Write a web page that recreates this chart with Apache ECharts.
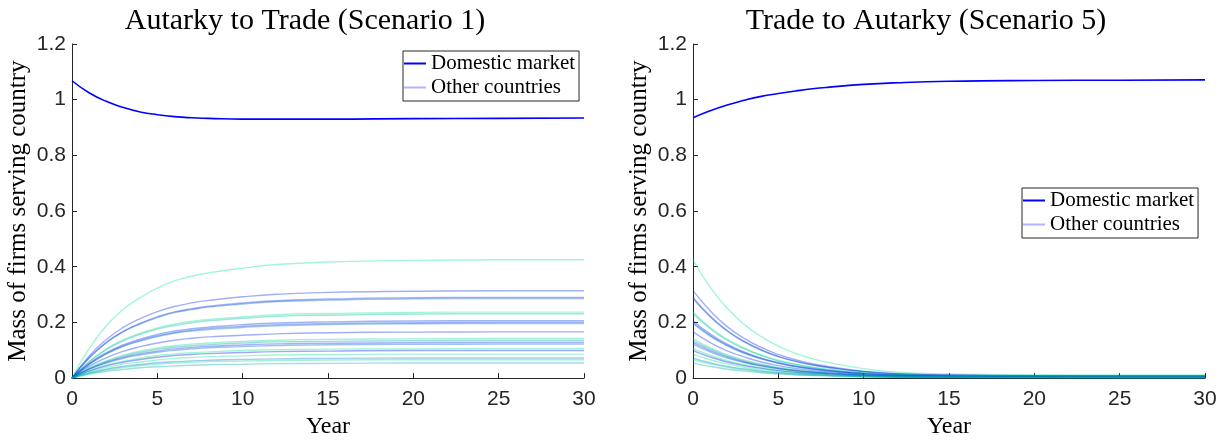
<!DOCTYPE html>
<html>
<head>
<meta charset="utf-8">
<script src="https://cdn.jsdelivr.net/npm/echarts@6/dist/echarts.min.js"></script>
<style>
html,body{margin:0;padding:0;background:#fff;}
#chart{width:1226px;height:444px;}
</style>
</head>
<body>
<div id="chart"></div>
<script>
// ---- data ----
const years = [0, 1, 2, 3, 4, 5, 6, 7, 8, 10, 12, 15, 20, 25, 30];
const xTicks = [0, 5, 10, 15, 20, 25, 30];
const yTicks = [0, 0.2, 0.4, 0.6, 0.8, 1, 1.2];

const domesticLeft  = [1.068, 1.025, 0.994, 0.972, 0.956, 0.946, 0.939, 0.935, 0.933, 0.930, 0.930, 0.930, 0.932, 0.933, 0.934];
const domesticRight = [0.935, 0.960, 0.981, 0.998, 1.012, 1.022, 1.031, 1.039, 1.045, 1.055, 1.061, 1.066, 1.069, 1.070, 1.071];

const otherLeft = [
  [0, .106, .187, .247, .289, .323, .349, .366, .378, .395, .408, .417, .423, .425, .425],
  [0, .079, .138, .182, .214, .239, .257, .270, .279, .292, .301, .308, .312, .314, .314],
  [0, .073, .128, .168, .197, .220, .238, .249, .258, .270, .278, .284, .289, .290, .290],
  [0, .072, .126, .166, .194, .217, .235, .246, .255, .266, .275, .280, .285, .286, .286],
  [0, .059, .104, .137, .161, .180, .194, .204, .211, .220, .228, .232, .236, .237, .237],
  [0, .058, .102, .134, .157, .176, .189, .199, .206, .215, .222, .226, .230, .231, .231],
  [0, .052, .091, .119, .140, .157, .169, .177, .183, .192, .198, .202, .205, .206, .206],
  [0, .050, .088, .116, .136, .152, .164, .172, .178, .186, .192, .196, .199, .200, .200],
  [0, .049, .086, .114, .133, .149, .161, .169, .174, .182, .188, .192, .195, .196, .196],
  [0, .042, .073, .096, .113, .126, .136, .143, .148, .154, .159, .163, .165, .166, .166],
  [0, .036, .062, .082, .097, .108, .116, .122, .126, .132, .136, .139, .141, .142, .142],
  [0, .034, .059, .078, .092, .103, .111, .116, .120, .126, .130, .132, .134, .135, .135],
  [0, .032, .056, .074, .087, .097, .105, .110, .114, .119, .123, .125, .127, .128, .128],
  [0, .031, .054, .071, .083, .093, .100, .105, .109, .113, .117, .120, .121, .122, .122],
  [0, .027, .047, .061, .072, .081, .087, .091, .094, .099, .102, .104, .105, .106, .106],
  [0, .025, .044, .057, .067, .075, .081, .085, .088, .092, .095, .097, .099, .099, .099],
  [0, .022, .038, .050, .058, .065, .071, .074, .077, .080, .083, .084, .086, .086, .086],
  [0, .018, .032, .042, .049, .055, .059, .062, .064, .067, .069, .071, .072, .072, .072],
  [0, .017, .029, .038, .045, .050, .054, .057, .059, .061, .063, .065, .066, .066, .066],
  [0, .014, .024, .031, .037, .041, .044, .046, .048, .050, .052, .053, .054, .054, .054]
];

const otherRight = [
  [.425, .327, .251, .193, .149, .115, .089, .070, .055, .034, .021, .015, .012, .011, .011],
  [.314, .242, .185, .143, .110, .085, .066, .052, .041, .025, .016, .011, .009, .008, .008],
  [.290, .223, .171, .132, .102, .078, .061, .048, .038, .023, .015, .010, .008, .008, .008],
  [.286, .220, .169, .130, .100, .077, .060, .047, .037, .023, .014, .010, .008, .008, .008],
  [.237, .182, .140, .108, .083, .064, .050, .039, .031, .019, .012, .008, .007, .006, .006],
  [.231, .178, .136, .105, .081, .062, .049, .038, .030, .018, .012, .008, .006, .006, .006],
  [.206, .159, .122, .094, .072, .056, .043, .034, .027, .016, .010, .007, .006, .006, .006],
  [.200, .154, .118, .091, .070, .054, .042, .033, .026, .016, .010, .007, .006, .005, .005],
  [.196, .151, .116, .089, .069, .053, .041, .032, .025, .016, .010, .007, .005, .005, .005],
  [.166, .128, .098, .076, .058, .045, .035, .027, .022, .013, .008, .006, .005, .004, .004],
  [.142, .109, .084, .065, .050, .038, .030, .023, .018, .011, .007, .005, .004, .004, .004],
  [.135, .104, .080, .061, .047, .036, .028, .022, .018, .011, .007, .005, .004, .004, .004],
  [.128, .099, .076, .058, .045, .035, .027, .021, .017, .010, .006, .004, .004, .003, .003],
  [.122, .094, .072, .056, .043, .033, .026, .020, .016, .010, .006, .004, .003, .003, .003],
  [.106, .082, .063, .048, .037, .029, .022, .017, .014, .008, .005, .004, .003, .003, .003],
  [.099, .076, .058, .045, .035, .027, .021, .016, .013, .008, .005, .003, .003, .003, .003],
  [.086, .066, .051, .039, .030, .023, .018, .014, .011, .007, .004, .003, .002, .002, .002],
  [.072, .055, .042, .033, .025, .019, .015, .012, .009, .006, .004, .003, .002, .002, .002],
  [.066, .051, .039, .030, .023, .018, .014, .011, .009, .005, .003, .002, .002, .002, .002],
  [.054, .042, .032, .025, .019, .015, .011, .009, .007, .004, .003, .002, .002, .001, .001]
];

const titles = ['Autarky to Trade (Scenario 1)', 'Trade to Autarky (Scenario 5)'];
const legendNames = ['Domestic market', 'Other countries'];
const xName = 'Year';
const yName = 'Mass of firms serving country';

// ---- styles ----
const otherColors = [
  'rgba(0,232,140,0.37)', 'rgba(0,38,236,0.37)', 'rgba(0,51,230,0.37)', 'rgba(0,77,217,0.37)',
  'rgba(0,230,140,0.37)', 'rgba(0,179,166,0.37)', 'rgba(0,51,230,0.37)', 'rgba(0,64,223,0.37)',
  'rgba(0,102,204,0.37)', 'rgba(0,38,236,0.37)', 'rgba(0,217,147,0.37)', 'rgba(0,153,179,0.37)',
  'rgba(0,51,230,0.37)', 'rgba(0,89,210,0.37)', 'rgba(0,230,140,0.37)', 'rgba(0,13,249,0.37)',
  'rgba(0,230,140,0.37)', 'rgba(0,115,198,0.37)', 'rgba(0,217,147,0.37)', 'rgba(0,166,172,0.37)'
];
const domesticColor = '#0000ff';
const legendOtherColor = '#b3b3ff';
const axisColor = '#262626';
const serif = 'Liberation Serif';
const sans = 'Liberation Sans';

const grids = [
  {left: 72, top: 44, width: 512, height: 339.5},
  {left: 693, top: 44, width: 512, height: 339.5}
];
const titleCenters = [300, 921];
const legendPos = [{left: 403, top: 51}, {left: 1022, top: 188}];

function xAxisFor(i) {
  return {
    gridIndex: i, type: 'value', min: xTicks[0], max: xTicks[xTicks.length - 1], interval: 5,
    name: xName, nameLocation: 'middle', nameGap: 35,
    nameTextStyle: {fontFamily: serif, fontSize: 24, color: '#000'},
    axisLine: {show: true, onZero: false, lineStyle: {color: axisColor, width: 1}},
    axisTick: {show: true, inside: true, length: 5, lineStyle: {color: axisColor}},
    axisLabel: {fontFamily: sans, fontSize: 21, color: axisColor, margin: 11},
    splitLine: {show: false}
  };
}
function yAxisFor(i) {
  return {
    gridIndex: i, type: 'value', min: yTicks[0], max: yTicks[yTicks.length - 1], interval: 0.2,
    name: yName, nameLocation: 'middle', nameGap: 41,
    nameTextStyle: {fontFamily: serif, fontSize: 25, color: '#000'},
    axisLine: {show: true, onZero: false, lineStyle: {color: axisColor, width: 1}},
    axisTick: {show: true, inside: true, length: 5, lineStyle: {color: axisColor}},
    axisLabel: {fontFamily: sans, fontSize: 21, color: axisColor, margin: 6,
      formatter: v => String(Math.round(v * 10) / 10)},
    splitLine: {show: false}
  };
}

const series = [];
[otherLeft, otherRight].forEach((set, gi) => {
  set.forEach((row, k) => {
    series.push({
      name: legendNames[1], type: 'line', xAxisIndex: gi, yAxisIndex: gi,
      data: years.map((x, j) => [x, row[j]]),
      symbol: 'none', smooth: 0.5, silent: true,
      lineStyle: {color: otherColors[k], width: 1.4},
      itemStyle: {color: otherColors[k]}, z: 2
    });
  });
});
[domesticLeft, domesticRight].forEach((row, gi) => {
  series.push({
    name: legendNames[0], type: 'line', xAxisIndex: gi, yAxisIndex: gi,
    data: years.map((x, j) => [x, row[j]]),
    symbol: 'none', smooth: 0.5, silent: true,
    lineStyle: {color: domesticColor, width: 1.6},
    itemStyle: {color: domesticColor}, z: 3
  });
});

const legends = legendPos.map(p => ({
  left: p.left, top: p.top, orient: 'vertical',
  backgroundColor: '#fff', borderColor: axisColor, borderWidth: 1,
  padding: [2, 4, 3, 1], itemGap: 3, itemWidth: 22, itemHeight: 2, icon: 'rect',
  selectedMode: false,
  textStyle: {fontFamily: serif, fontSize: 21, color: '#000', lineHeight: 21},
  data: [
    {name: legendNames[0], itemStyle: {color: domesticColor}},
    {name: legendNames[1], itemStyle: {color: legendOtherColor}}
  ]
}));

const option = {
  animation: false,
  backgroundColor: '#fff',
  title: titles.map((t, i) => ({
    text: t, left: titleCenters[i], top: 1, textAlign: 'center',
    textStyle: {fontFamily: serif, fontSize: 30, fontWeight: 'normal', color: '#000'}
  })),
  legend: legends,
  grid: grids,
  xAxis: [xAxisFor(0), xAxisFor(1)],
  yAxis: [yAxisFor(0), yAxisFor(1)],
  series: series
};

const chart = echarts.init(document.getElementById('chart'), null, {renderer: 'canvas'});
chart.setOption(option);
</script>
</body>
</html>
